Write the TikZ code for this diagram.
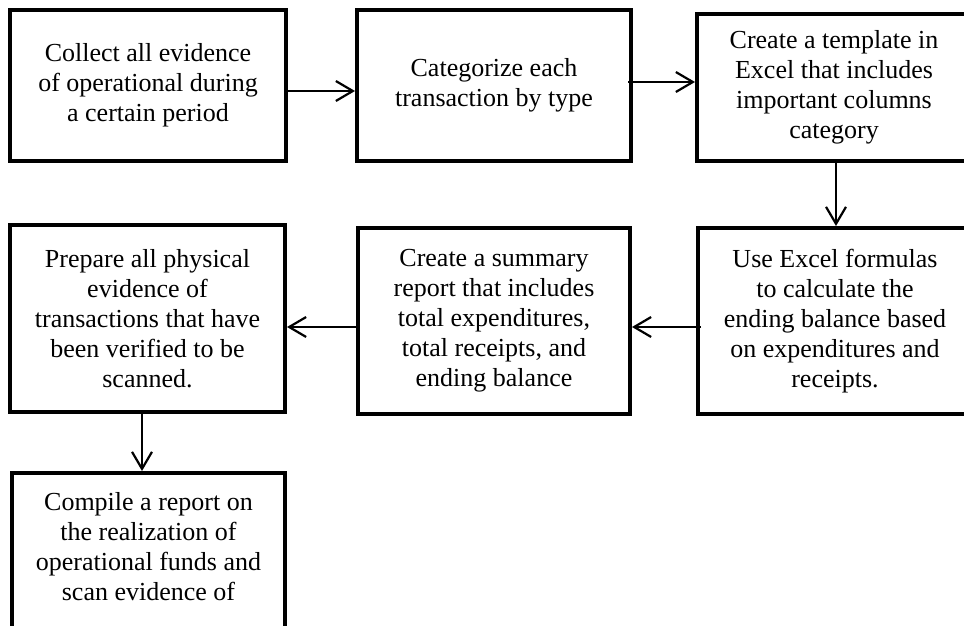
\documentclass[tikz,border=0pt]{standalone}
\usepackage{fontspec}
\setmainfont{Liberation Serif}
\usetikzlibrary{arrows.meta}

\begin{document}
\begin{tikzpicture}[x=1pt, y=-1pt,
    stepbox/.style={rectangle, draw=black, line width=4pt, minimum width=274pt, minimum height=187pt, align=center, font=\fontsize{26}{30}\selectfont},
    arrow/.style={-{Straight Barb[length=17pt, width=20pt]}, line width=2.2pt}
]
\useasboundingbox (0,0) rectangle (964,626);
\clip (0,0) rectangle (964,626);

% Top row
\node[stepbox, minimum width=276pt, minimum height=151pt] (collect) at (148,85.5) {Collect all evidence\\of operational during\\a certain period};
\node[stepbox, minimum height=151pt] (categorize) at (494,85.5) {Categorize each\\transaction by type};
\node[stepbox, minimum height=147pt] (template) at (834,87.5) {Create a template in\\Excel that includes\\important columns\\category};

% Middle row
\node[stepbox, minimum height=186pt] (formulas) at (835,321) {Use Excel formulas\\to calculate the\\ending balance based\\on expenditures and\\receipts.};
\node[stepbox, minimum width=272pt, minimum height=186pt] (summary) at (494,321) {Create a summary\\report that includes\\total expenditures,\\total receipts, and\\ending balance};
\node[stepbox, minimum width=275pt] (prepare) at (147.5,318.5) {Prepare all physical\\evidence of\\transactions that have\\been verified to be\\scanned.};

% Bottom (runs off the page)
\node[stepbox, minimum width=273pt, minimum height=186pt] (compile) at (148.5,566) {Compile a report on\\the realization of\\operational funds and\\scan evidence of\\\strut};

% Arrows
\draw[arrow] ([yshift=-5.5pt]collect.east) -- ([yshift=-5.5pt]collect.east -| categorize.west);
\draw[arrow] ([xshift=-5pt, yshift=3.5pt]categorize.east) -- ([yshift=3.5pt]categorize.east -| template.west);
\draw[arrow] ([xshift=2pt]template.south) -- ([xshift=2pt]template.south |- formulas.north);
\draw[arrow] ([xshift=5pt, yshift=-6pt]formulas.west) -- ([yshift=-6pt]formulas.west -| summary.east);
\draw[arrow] ([yshift=-6pt]summary.west) -- ([yshift=-6pt]summary.west -| prepare.east);
\draw[arrow] ([xshift=-5.5pt]prepare.south) -- ([xshift=-5.5pt]prepare.south |- compile.north);

\end{tikzpicture}
\end{document}
